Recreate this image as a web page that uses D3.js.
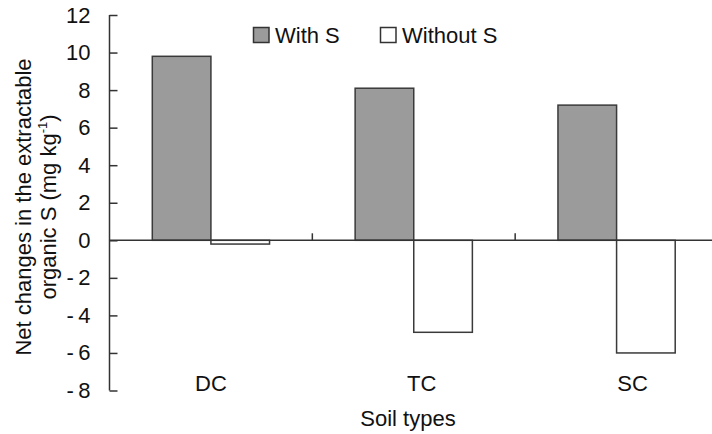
<!DOCTYPE html>
<html>
<head>
<meta charset="utf-8">
<script src="https://cdn.jsdelivr.net/npm/d3@7"></script>
<style>
  body { margin: 0; background: #fff; }
  text { font-family: "Liberation Sans", Arial, sans-serif; fill: #111; }
</style>
</head>
<body>
<div id="chart"></div>
<script>
// -------- Data --------
const categories = ['DC', 'TC', 'SC'];
const series     = ['With S', 'Without S'];
const withS      = [9.8, 8.1, 7.2];
const withoutS   = [-0.2, -4.9, -6.0];
const yTicks     = [12, 10, 8, 6, 4, 2, 0, -2, -4, -6, -8];

// -------- Dimensions --------
const dims = { width: 712, height: 434 };
const m = { top: 15, left: 109.5, bottom: 43.5 };
const plotRight = 718;   // plot runs a little past the window edge

const svg = d3.select('#chart').append('svg')
  .attr('width', dims.width)
  .attr('height', dims.height);

// -------- Scales --------
const y = d3.scaleLinear()
  .domain([-8, 12])
  .range([dims.height - m.bottom, m.top]);

const x = d3.scaleBand()
  .domain(categories)
  .range([m.left, plotRight]);

const xs = d3.scaleBand()
  .domain(series)
  .range([0, x.bandwidth()])
  .paddingOuter(0.73);

const fill = d3.scaleOrdinal().domain(series).range(['#9b9b9b', '#ffffff']);

const rows = categories.flatMap((c, i) => [
  { cat: c, key: 'With S', value: withS[i] },
  { cat: c, key: 'Without S', value: withoutS[i] }
]);

// -------- Bars --------
svg.append('g').selectAll('rect')
  .data(rows)
  .join('rect')
    .attr('x', d => x(d.cat) + xs(d.key))
    .attr('width', xs.bandwidth())
    .attr('y', d => y(Math.max(0, d.value)))
    .attr('height', d => Math.abs(y(d.value) - y(0)))
    .attr('fill', d => fill(d.key))
    .attr('stroke', '#3a3a3a')
    .attr('stroke-width', 1.5);

// -------- Zero line + category ticks --------
svg.append('line')
  .attr('x1', m.left).attr('x2', plotRight)
  .attr('y1', y(0)).attr('y2', y(0))
  .attr('stroke', '#333').attr('stroke-width', 1.5);

svg.append('g').selectAll('line')
  .data(categories.slice(1))
  .join('line')
    .attr('x1', d => x(d)).attr('x2', d => x(d))
    .attr('y1', y(0)).attr('y2', y(0) - 7)
    .attr('stroke', '#333').attr('stroke-width', 1.5);

// category labels sit at the bottom of the plot
svg.append('g').selectAll('text')
  .data(categories)
  .join('text')
    .attr('x', (d, i) => x(d) + x.bandwidth() / 2 + i * 8)
    .attr('y', y(-8))
    .attr('text-anchor', 'middle')
    .attr('font-size', 22)
    .text(d => d);

// -------- Y axis --------
const yAxis = d3.axisRight(y)
  .tickValues(yTicks)
  .tickSize(8)
  .tickFormat(d => d < 0 ? `-\u2009${-d}` : d);

const ag = svg.append('g')
  .attr('transform', `translate(${m.left},0)`)
  .call(yAxis);
ag.select('.domain').attr('d', `M0,${y(12)}V${y(-8)}`).attr('stroke', '#333').attr('stroke-width', 1.5);
ag.selectAll('.tick line').attr('stroke', '#333').attr('stroke-width', 1.5);
ag.selectAll('.tick text')
  .attr('x', -19)
  .attr('text-anchor', 'end')
  .attr('font-size', 22)
  .attr('fill', '#111');

// -------- Axis titles --------
const midY = 207;
svg.append('text')
  .attr('transform', `translate(31,${midY}) rotate(-90)`)
  .attr('text-anchor', 'middle')
  .attr('font-size', 22)
  .text('Net changes in the extractable');

const t2 = svg.append('text')
  .attr('transform', `translate(56,${midY}) rotate(-90)`)
  .attr('text-anchor', 'middle')
  .attr('font-size', 22);
t2.append('tspan').text('organic S (mg kg');
t2.append('tspan').attr('font-size', 13).attr('dy', -9).text('-1');
t2.append('tspan').attr('dy', 9).text(')');

svg.append('text')
  .attr('x', 408)
  .attr('y', 425.5)
  .attr('text-anchor', 'middle')
  .attr('font-size', 22)
  .text('Soil types');

// -------- Legend --------
const legendX = [253.5, 380.5];
const lg = svg.append('g').selectAll('g')
  .data(series)
  .join('g')
    .attr('transform', (d, i) => `translate(${legendX[i]},27.5)`);
lg.append('rect')
  .attr('width', 15.5).attr('height', 15)
  .attr('fill', d => fill(d))
  .attr('stroke', '#333').attr('stroke-width', 1.5);
lg.append('text')
  .attr('x', 21.5).attr('y', 15)
  .attr('font-size', 22)
  .text(d => d);
</script>
</body>
</html>
